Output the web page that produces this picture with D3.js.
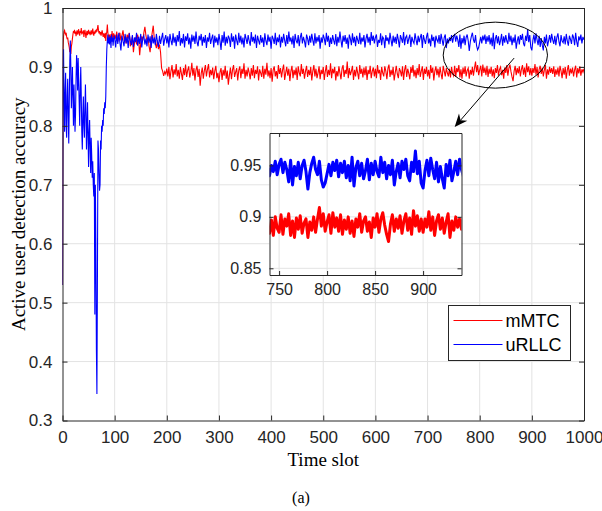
<!DOCTYPE html>
<html>
<head>
<meta charset="utf-8">
<script src="https://cdn.jsdelivr.net/npm/d3@7"></script>
<style>
  body { margin: 0; background: #fff; }
  svg { display: block; }
</style>
</head>
<body>
<svg id="chart" width="602" height="511"></svg>
<script>
// mMTC, slots 0..99 (one value per slot)
const mmtcEarly = [
  0.530, 0.930, 0.952, 0.960, 0.962, 0.957, 0.955, 0.958, 0.951, 0.947,
  0.950, 0.942, 0.938, 0.933, 0.925, 0.929, 0.922, 0.935, 0.940, 0.948,
  0.955, 0.961, 0.958, 0.963, 0.956, 0.960, 0.952, 0.958, 0.962, 0.955,
  0.959, 0.964, 0.957, 0.953, 0.961, 0.958, 0.966, 0.955, 0.960, 0.957,
  0.962, 0.951, 0.958, 0.963, 0.956, 0.949, 0.957, 0.961, 0.954, 0.959,
  0.963, 0.956, 0.960, 0.954, 0.958, 0.962, 0.955, 0.959, 0.965, 0.957,
  0.953, 0.960, 0.956, 0.962, 0.958, 0.964, 0.960, 0.966, 0.971, 0.962,
  0.957, 0.961, 0.955, 0.959, 0.953, 0.958, 0.962, 0.956, 0.951, 0.957,
  0.954, 0.949, 0.958, 0.944, 0.955, 0.960, 0.972, 0.958, 0.952, 0.947,
  0.955, 0.950, 0.943, 0.956, 0.948, 0.961, 0.952, 0.946, 0.957, 0.950
];

// mMTC, slots 100..1000 (every 2nd slot)
const mmtcLate = [
  0.955, 0.948, 0.960, 0.943, 0.952, 0.958, 0.945, 0.953, 0.962, 0.947,
  0.951, 0.940, 0.955, 0.948, 0.958, 0.935, 0.944, 0.952, 0.925, 0.941,
  0.950, 0.938, 0.955, 0.947, 0.920, 0.940, 0.952, 0.945, 0.958, 0.968,
  0.953, 0.944, 0.950, 0.935, 0.925, 0.946, 0.958, 0.970, 0.948, 0.940,
  0.932, 0.945, 0.930, 0.938, 0.925, 0.898, 0.893, 0.885, 0.892, 0.888,
  0.897, 0.884, 0.900, 0.879, 0.893, 0.903, 0.882, 0.896, 0.887, 0.905,
  0.884, 0.895, 0.880, 0.900, 0.889, 0.878, 0.898, 0.886, 0.904, 0.883,
  0.894, 0.901, 0.882, 0.891, 0.907, 0.885, 0.898, 0.877, 0.895, 0.902,
  0.883, 0.897, 0.868, 0.889, 0.899, 0.880, 0.894, 0.903, 0.884, 0.896,
  0.905, 0.882, 0.895, 0.886, 0.899, 0.879, 0.893, 0.902, 0.881, 0.890,
  0.874, 0.891, 0.898, 0.878, 0.895, 0.885, 0.902, 0.880, 0.894, 0.870,
  0.886, 0.899, 0.879, 0.895, 0.903, 0.883, 0.891, 0.898, 0.877, 0.894,
  0.901, 0.881, 0.897, 0.888, 0.906, 0.880, 0.895, 0.884, 0.899, 0.890,
  0.879, 0.898, 0.885, 0.903, 0.881, 0.895, 0.888, 0.901, 0.877, 0.896,
  0.890, 0.883, 0.902, 0.880, 0.897, 0.887, 0.907, 0.884, 0.894, 0.881,
  0.898, 0.875, 0.895, 0.901, 0.884, 0.893, 0.880, 0.903, 0.888, 0.898,
  0.882, 0.895, 0.904, 0.878, 0.890, 0.900, 0.885, 0.897, 0.876, 0.893,
  0.902, 0.881, 0.895, 0.886, 0.899, 0.878, 0.901, 0.890, 0.884, 0.905,
  0.888, 0.897, 0.880, 0.893, 0.902, 0.883, 0.895, 0.886, 0.900, 0.877,
  0.893, 0.903, 0.884, 0.897, 0.881, 0.890, 0.901, 0.879, 0.895, 0.888,
  0.900, 0.878, 0.893, 0.903, 0.883, 0.895, 0.886, 0.906, 0.881, 0.897,
  0.889, 0.900, 0.877, 0.893, 0.884, 0.901, 0.890, 0.879, 0.897, 0.903,
  0.883, 0.895, 0.888, 0.909, 0.881, 0.898, 0.886, 0.893, 0.902, 0.878,
  0.895, 0.884, 0.900, 0.890, 0.879, 0.903, 0.888, 0.897, 0.882, 0.899,
  0.886, 0.901, 0.878, 0.895, 0.888, 0.902, 0.881, 0.893, 0.899, 0.884,
  0.897, 0.881, 0.903, 0.889, 0.895, 0.878, 0.900, 0.890, 0.884, 0.901,
  0.893, 0.879, 0.897, 0.904, 0.883, 0.895, 0.886, 0.900, 0.877, 0.890,
  0.902, 0.888, 0.881, 0.898, 0.893, 0.884, 0.901, 0.878, 0.895, 0.903,
  0.883, 0.897, 0.889, 0.879, 0.900, 0.890, 0.903, 0.884, 0.895, 0.881,
  0.898, 0.886, 0.905, 0.883, 0.893, 0.901, 0.878, 0.897, 0.888, 0.900,
  0.884, 0.895, 0.880, 0.903, 0.890, 0.899, 0.877, 0.893, 0.901, 0.886,
  0.897, 0.882, 0.900, 0.888, 0.879, 0.902, 0.893, 0.884, 0.898, 0.890,
  0.884, 0.897, 0.882, 0.900, 0.889, 0.885, 0.902, 0.883, 0.898, 0.891,
  0.903, 0.882, 0.896, 0.880, 0.899, 0.888, 0.901, 0.884, 0.894, 0.898,
  0.880, 0.895, 0.887, 0.900, 0.885, 0.898, 0.909, 0.891, 0.903, 0.886,
  0.895, 0.902, 0.884, 0.904, 0.890, 0.899, 0.886, 0.902, 0.883, 0.897,
  0.888, 0.900, 0.884, 0.896, 0.881, 0.898, 0.890, 0.903, 0.885, 0.896,
  0.900, 0.886, 0.895, 0.880, 0.899, 0.890, 0.903, 0.885, 0.898, 0.904,
  0.892, 0.883, 0.876, 0.893, 0.902, 0.886, 0.898, 0.889, 0.901, 0.884,
  0.896, 0.903, 0.887, 0.899, 0.883, 0.906, 0.891, 0.901, 0.886, 0.898,
  0.885, 0.898, 0.890, 0.905, 0.887, 0.900, 0.882, 0.896, 0.902, 0.888,
  0.899, 0.884, 0.895, 0.903, 0.880, 0.896, 0.887, 0.900, 0.890, 0.898,
  0.888, 0.901, 0.883, 0.896, 0.887, 0.899, 0.884, 0.902, 0.893, 0.881,
  0.898, 0.887, 0.900, 0.880, 0.895, 0.903, 0.885, 0.897, 0.889, 0.899,
  0.884, 0.895, 0.902, 0.882, 0.898, 0.889, 0.901, 0.885, 0.896, 0.891,
  0.897
];

// uRLLC, slots 0..99 (one value per slot)
const urllcEarly = [
  0.530, 0.900, 0.930, 0.840, 0.790, 0.860, 0.890, 0.800, 0.780, 0.850,
  0.880, 0.820, 0.770, 0.840, 0.910, 0.945, 0.900, 0.830, 0.860, 0.900,
  0.850, 0.800, 0.870, 0.830, 0.790, 0.820, 0.880, 0.920, 0.900, 0.860,
  0.915, 0.880, 0.840, 0.800, 0.860, 0.900, 0.850, 0.790, 0.760, 0.820,
  0.850, 0.800, 0.780, 0.830, 0.870, 0.820, 0.760, 0.800, 0.840, 0.780,
  0.730, 0.790, 0.810, 0.760, 0.720, 0.780, 0.750, 0.712, 0.740, 0.700,
  0.680, 0.720, 0.480, 0.700, 0.600, 0.420, 0.345, 0.550, 0.775, 0.760,
  0.720, 0.690, 0.700, 0.775, 0.760, 0.800, 0.790, 0.810, 0.800, 0.830,
  0.820, 0.840, 0.830, 0.850, 0.900, 0.930, 0.945, 0.955, 0.940, 0.950,
  0.938, 0.952, 0.945, 0.932, 0.955, 0.943, 0.950, 0.936, 0.947, 0.953
];

// uRLLC, slots 100..1000 (every 2nd slot)
const urllcLate = [
  0.950, 0.933, 0.955, 0.939, 0.958, 0.942, 0.928, 0.953, 0.944, 0.935,
  0.956, 0.940, 0.951, 0.932, 0.957, 0.945, 0.937, 0.954, 0.934, 0.950,
  0.942, 0.958, 0.936, 0.951, 0.939, 0.956, 0.933, 0.949, 0.953, 0.938,
  0.948, 0.935, 0.955, 0.941, 0.952, 0.932, 0.954, 0.940, 0.950, 0.937,
  0.956, 0.943, 0.934, 0.953, 0.939, 0.949, 0.958, 0.936, 0.947, 0.954,
  0.940, 0.952, 0.933, 0.956, 0.945, 0.937, 0.957, 0.941, 0.951, 0.935,
  0.954, 0.943, 0.961, 0.936, 0.949, 0.940, 0.956, 0.933, 0.952, 0.944,
  0.957, 0.938, 0.950, 0.931, 0.955, 0.943, 0.953, 0.939, 0.960, 0.942,
  0.935, 0.953, 0.945, 0.956, 0.936, 0.951, 0.941, 0.954, 0.932, 0.950,
  0.943, 0.958, 0.939, 0.948, 0.955, 0.933, 0.953, 0.941, 0.950, 0.937,
  0.956, 0.944, 0.929, 0.954, 0.941, 0.960, 0.936, 0.951, 0.940, 0.953,
  0.948, 0.934, 0.957, 0.943, 0.952, 0.931, 0.955, 0.945, 0.937, 0.958,
  0.941, 0.953, 0.938, 0.950, 0.933, 0.956, 0.948, 0.939, 0.954, 0.944,
  0.936, 0.959, 0.943, 0.951, 0.940, 0.955, 0.932, 0.953, 0.945, 0.938,
  0.954, 0.941, 0.950, 0.934, 0.957, 0.944, 0.937, 0.955, 0.943, 0.951,
  0.931, 0.953, 0.948, 0.939, 0.958, 0.937, 0.950, 0.942, 0.955, 0.933,
  0.951, 0.941, 0.956, 0.945, 0.935, 0.954, 0.939, 0.960, 0.943, 0.950,
  0.938, 0.953, 0.932, 0.956, 0.945, 0.940, 0.954, 0.935, 0.950, 0.958,
  0.940, 0.951, 0.944, 0.933, 0.955, 0.948, 0.937, 0.953, 0.941, 0.956,
  0.945, 0.936, 0.957, 0.940, 0.951, 0.943, 0.954, 0.931, 0.950, 0.941,
  0.955, 0.948, 0.937, 0.958, 0.943, 0.953, 0.934, 0.950, 0.939, 0.954,
  0.945, 0.938, 0.956, 0.935, 0.951, 0.941, 0.960, 0.945, 0.933, 0.953,
  0.943, 0.954, 0.939, 0.950, 0.931, 0.955, 0.948, 0.937, 0.957, 0.941,
  0.951, 0.935, 0.953, 0.946, 0.939, 0.958, 0.938, 0.950, 0.943, 0.954,
  0.933, 0.948, 0.956, 0.941, 0.951, 0.937, 0.959, 0.944, 0.953, 0.940,
  0.950, 0.955, 0.934, 0.946, 0.941, 0.957, 0.937, 0.951, 0.948, 0.932,
  0.954, 0.944, 0.950, 0.938, 0.958, 0.946, 0.935, 0.953, 0.941, 0.951,
  0.939, 0.956, 0.946, 0.933, 0.954, 0.948, 0.941, 0.959, 0.937, 0.950,
  0.953, 0.939, 0.948, 0.955, 0.934, 0.951, 0.944, 0.940, 0.957, 0.946,
  0.937, 0.953, 0.942, 0.950, 0.956, 0.932, 0.954, 0.946, 0.939, 0.951,
  0.958, 0.940, 0.948, 0.935, 0.955, 0.944, 0.951, 0.933, 0.953, 0.946,
  0.942, 0.954, 0.939, 0.956, 0.946, 0.936, 0.950, 0.955, 0.932, 0.948,
  0.940, 0.950, 0.944, 0.954, 0.941, 0.951, 0.956, 0.943, 0.953, 0.946,
  0.934, 0.955, 0.931, 0.949, 0.940, 0.953, 0.937, 0.950, 0.955, 0.944,
  0.927, 0.943, 0.952, 0.958, 0.946, 0.941, 0.954, 0.936, 0.929, 0.933,
  0.942, 0.951, 0.940, 0.953, 0.945, 0.955, 0.939, 0.952, 0.943, 0.954,
  0.938, 0.950, 0.935, 0.958, 0.930, 0.948, 0.954, 0.940, 0.952, 0.937,
  0.945, 0.956, 0.936, 0.952, 0.941, 0.954, 0.944, 0.939, 0.958, 0.943,
  0.953, 0.937, 0.950, 0.941, 0.955, 0.931, 0.944, 0.952, 0.938, 0.954,
  0.946, 0.956, 0.940, 0.935, 0.953, 0.944, 0.964, 0.942, 0.954, 0.933,
  0.928, 0.945, 0.955, 0.940, 0.957, 0.946, 0.937, 0.953, 0.934, 0.949,
  0.937, 0.928, 0.951, 0.940, 0.955, 0.935, 0.944, 0.954, 0.941, 0.956,
  0.946, 0.939, 0.953, 0.937, 0.950, 0.957, 0.943, 0.935, 0.954, 0.944,
  0.941, 0.952, 0.938, 0.956, 0.944, 0.936, 0.953, 0.947, 0.939, 0.955,
  0.950, 0.937, 0.958, 0.943, 0.934, 0.952, 0.945, 0.955, 0.940, 0.951,
  0.946
];

const seriesNames = ["mMTC", "uRLLC"];
const seriesColors = ["#ff0000", "#0000ff"];

const xTicks = [0, 100, 200, 300, 400, 500, 600, 700, 800, 900, 1000];
const yTicks = [0.3, 0.4, 0.5, 0.6, 0.7, 0.8, 0.9, 1];
const insetXTicks = [750, 800, 850, 900];
const insetYTicks = [0.85, 0.9, 0.95];

// zoom marker: ellipse around slots 730..930, values 0.864..0.976, arrow to inset
const zoomEllipse = { t0: 730, t1: 930, v0: 0.864, v1: 0.976 };
const zoomArrow = { from: [866, 0.915], to: [752, 0.798] };

(function drawAccuracyChart() {
  const svg = d3.select("#chart");
  const width = 602, height = 511;

  const margin = { top: 8, right: 18, bottom: 90.5, left: 62.5 };
  const axisColor = "#262626";
  const gridColor = "#e3e3e3";
  const tickFont = "'Liberation Sans', Arial, sans-serif";
  const labelFont = "'Liberation Serif', 'Times New Roman', serif";

  function toPoints(early, late) {
    const pts = early.map((v, i) => ({ t: i, v: v }));
    late.forEach((v, i) => pts.push({ t: 100 + 2 * i, v: v }));
    return pts;
  }
  const series = [toPoints(mmtcEarly, mmtcLate), toPoints(urllcEarly, urllcLate)];

  const x = d3.scaleLinear().domain([0, 1000]).range([margin.left, width - margin.right]);
  const y = d3.scaleLinear().domain([0.3, 1]).range([height - margin.bottom, margin.top]);

  svg.append("rect").attr("width", width).attr("height", height).attr("fill", "#fff");

  // grid
  svg.append("g")
    .selectAll("line")
    .data(xTicks.slice(1, -1))
    .enter().append("line")
    .attr("x1", d => x(d)).attr("x2", d => x(d))
    .attr("y1", y(0.3)).attr("y2", y(1))
    .attr("stroke", gridColor);
  svg.append("g")
    .selectAll("line")
    .data(yTicks.slice(1, -1))
    .enter().append("line")
    .attr("y1", d => y(d)).attr("y2", d => y(d))
    .attr("x1", x(0)).attr("x2", x(1000))
    .attr("stroke", gridColor);

  svg.append("clipPath").attr("id", "main-clip")
    .append("rect")
    .attr("x", x(0)).attr("y", y(1))
    .attr("width", x(1000) - x(0)).attr("height", y(0.3) - y(1));

  const line = d3.line().x(d => x(d.t)).y(d => y(d.v));

  svg.append("g").attr("clip-path", "url(#main-clip)")
    .selectAll("path")
    .data(series)
    .enter().append("path")
    .attr("d", line)
    .attr("fill", "none")
    .attr("stroke", (d, i) => seriesColors[i])
    .attr("stroke-width", 1.1);

  // axes (MATLAB style box, ticks inward on all sides)
  const tickLen = 5;
  const axB = svg.append("g").attr("transform", `translate(0,${y(0.3)})`)
    .call(d3.axisBottom(x).tickValues(xTicks).tickSizeInner(-tickLen).tickSizeOuter(0).tickPadding(10).tickFormat(d3.format("d")));
  const axT = svg.append("g").attr("transform", `translate(0,${y(1)})`)
    .call(d3.axisTop(x).tickValues(xTicks).tickSizeInner(-tickLen).tickSizeOuter(0).tickFormat(""));
  const axL = svg.append("g").attr("transform", `translate(${x(0)},0)`)
    .call(d3.axisLeft(y).tickValues(yTicks).tickSizeInner(-tickLen).tickSizeOuter(0).tickPadding(10).tickFormat(d => d === 1 ? "1" : d3.format(".1f")(d)));
  const axR = svg.append("g").attr("transform", `translate(${x(1000)},0)`)
    .call(d3.axisRight(y).tickValues(yTicks).tickSizeInner(-tickLen).tickSizeOuter(0).tickFormat(""));

  [axB, axT, axL, axR].forEach(a => {
    a.select(".domain").attr("stroke", axisColor);
    a.selectAll(".tick line").attr("stroke", axisColor);
    a.selectAll("text")
      .attr("fill", axisColor)
      .style("font-family", tickFont)
      .style("font-size", "17px");
  });

  // axis labels
  svg.append("text")
    .attr("x", (x(0) + x(1000)) / 2)
    .attr("y", 466)
    .attr("text-anchor", "middle")
    .style("font-family", labelFont)
    .style("font-size", "19px")
    .attr("fill", "#000")
    .text("Time slot");

  svg.append("text")
    .attr("transform", `translate(25,${(y(0.3) + y(1)) / 2}) rotate(-90)`)
    .attr("text-anchor", "middle")
    .style("font-family", labelFont)
    .style("font-size", "19px")
    .attr("fill", "#000")
    .text("Active user detection accuracy");

  svg.append("text")
    .attr("x", 301)
    .attr("y", 503)
    .attr("text-anchor", "middle")
    .style("font-family", labelFont)
    .style("font-size", "16px")
    .attr("fill", "#000")
    .text("(a)");

  // legend
  const legend = svg.append("g").attr("transform", "translate(448.5,305.5)");
  legend.append("rect")
    .attr("width", 122).attr("height", 55)
    .attr("fill", "#fff").attr("stroke", axisColor);
  seriesNames.forEach((name, i) => {
    const item = legend.append("g").attr("transform", `translate(0,${15 + i * 24})`);
    item.append("line")
      .attr("x1", 5).attr("x2", 54)
      .attr("stroke", seriesColors[i]).attr("stroke-width", 1);
    item.append("text")
      .attr("x", 57).attr("y", 6.5)
      .style("font-family", tickFont)
      .style("font-size", "18px")
      .attr("fill", "#000")
      .text(name);
  });

  // inset
  const ix = d3.scaleLinear().domain([740, 940]).range([269.5, 461.5]);
  const iy = d3.scaleLinear().domain([0.8435, 0.9815]).range([275, 133]);

  const inset = svg.append("g");
  inset.append("rect")
    .attr("x", ix(740)).attr("y", iy(0.9815))
    .attr("width", ix(940) - ix(740)).attr("height", iy(0.8435) - iy(0.9815))
    .attr("fill", "#fff");

  inset.append("g").selectAll("line")
    .data(insetXTicks).enter().append("line")
    .attr("x1", d => ix(d)).attr("x2", d => ix(d))
    .attr("y1", iy(0.8435)).attr("y2", iy(0.9815))
    .attr("stroke", gridColor);
  inset.append("g").selectAll("line")
    .data(insetYTicks).enter().append("line")
    .attr("y1", d => iy(d)).attr("y2", d => iy(d))
    .attr("x1", ix(740)).attr("x2", ix(940))
    .attr("stroke", gridColor);

  svg.append("clipPath").attr("id", "inset-clip")
    .append("rect")
    .attr("x", ix(740)).attr("y", iy(0.9815))
    .attr("width", ix(940) - ix(740)).attr("height", iy(0.8435) - iy(0.9815));

  const insetLine = d3.line().x(d => ix(d.t)).y(d => iy(d.v));
  inset.append("g").attr("clip-path", "url(#inset-clip)")
    .selectAll("path")
    .data(series.map(s => s.filter(d => d.t >= 736 && d.t <= 944)))
    .enter().append("path")
    .attr("d", insetLine)
    .attr("fill", "none")
    .attr("stroke", (d, i) => seriesColors[i])
    .attr("stroke-width", 3)
    .attr("stroke-linejoin", "round");

  const iaB = inset.append("g").attr("transform", `translate(0,${iy(0.8435)})`)
    .call(d3.axisBottom(ix).tickValues(insetXTicks).tickSizeInner(-4).tickSizeOuter(0).tickPadding(9));
  const iaT = inset.append("g").attr("transform", `translate(0,${iy(0.9815)})`)
    .call(d3.axisTop(ix).tickValues(insetXTicks).tickSizeInner(-4).tickSizeOuter(0).tickFormat(""));
  const iaL = inset.append("g").attr("transform", `translate(${ix(740)},0)`)
    .call(d3.axisLeft(iy).tickValues(insetYTicks).tickSizeInner(-4).tickSizeOuter(0).tickPadding(8).tickFormat(d => d === 0.9 ? "0.9" : d3.format(".2f")(d)));
  const iaR = inset.append("g").attr("transform", `translate(${ix(940)},0)`)
    .call(d3.axisRight(iy).tickValues(insetYTicks).tickSizeInner(-4).tickSizeOuter(0).tickFormat(""));

  [iaB, iaT, iaL, iaR].forEach(a => {
    a.select(".domain").attr("stroke", axisColor);
    a.selectAll(".tick line").attr("stroke", axisColor);
    a.selectAll("text")
      .attr("fill", axisColor)
      .style("font-family", tickFont)
      .style("font-size", "16px");
  });

  // ellipse + arrow annotation
  const ecx = (x(zoomEllipse.t0) + x(zoomEllipse.t1)) / 2;
  const ecy = (y(zoomEllipse.v0) + y(zoomEllipse.v1)) / 2;
  svg.append("ellipse")
    .attr("cx", ecx).attr("cy", ecy)
    .attr("rx", (x(zoomEllipse.t1) - x(zoomEllipse.t0)) / 2)
    .attr("ry", (y(zoomEllipse.v0) - y(zoomEllipse.v1)) / 2)
    .attr("fill", "none")
    .attr("stroke", "#000")
    .attr("stroke-width", 1);

  const ax0 = x(zoomArrow.from[0]), ay0 = y(zoomArrow.from[1]);
  const ax1 = x(zoomArrow.to[0]), ay1 = y(zoomArrow.to[1]);
  const ang = Math.atan2(ay1 - ay0, ax1 - ax0);
  const headLen = 13, headW = 5.5, back = 9;
  const bx = ax1 - headLen * Math.cos(ang), by = ay1 - headLen * Math.sin(ang);
  const nx = -Math.sin(ang), ny = Math.cos(ang);
  const mx = ax1 - back * Math.cos(ang), my = ay1 - back * Math.sin(ang);

  svg.append("line")
    .attr("x1", ax0).attr("y1", ay0)
    .attr("x2", mx).attr("y2", my)
    .attr("stroke", "#000").attr("stroke-width", 1);
  svg.append("path")
    .attr("d", `M${ax1},${ay1} L${bx + headW * nx},${by + headW * ny} L${mx},${my} L${bx - headW * nx},${by - headW * ny} Z`)
    .attr("fill", "#000");
})();
</script>
</body>
</html>
